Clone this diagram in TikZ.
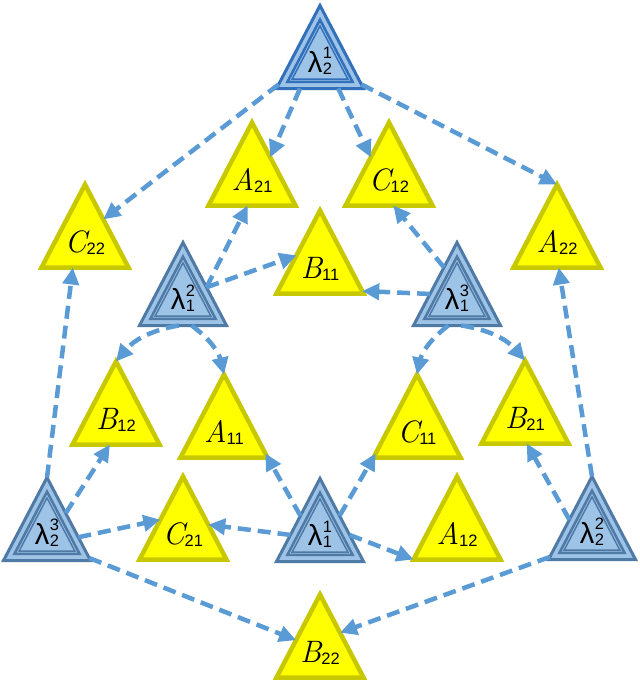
\documentclass[tikz,border=0pt]{standalone}
\usepackage{fontspec}
\newfontfamily\arial{Liberation Sans}
\usetikzlibrary{arrows.meta,calc}
\definecolor{yfill}{RGB}{255,255,0}
\definecolor{ydraw}{RGB}{200,200,0}
\definecolor{bfill}{RGB}{157,195,230}
\definecolor{bdrawA}{RGB}{50,112,188}
\definecolor{bdrawB}{RGB}{80,122,166}
\definecolor{arr}{RGB}{91,155,213}
\tikzset{
 tribox/.style={rectangle, draw=none, minimum width=87pt, minimum height=83pt, inner sep=0pt, outer sep=0pt},
 ytri/.style={fill=yfill, draw=ydraw, line width=4.5pt, line join=miter},
 btri/.style={fill=bfill, draw=#1, line width=3pt, line join=miter},
 binner/.style={draw=#1, line width=2.5pt, line join=miter},
 lab/.style={anchor=base, inner sep=0pt},
 conn/.style={arr, line width=4.5pt, dash pattern=on 13pt off 7pt, -{Triangle[length=17pt,width=16pt]}},
}
\newcommand\ylab[2]{{\fontsize{31}{31}\selectfont\itshape #1}\raisebox{-2pt}{\fontsize{16.5}{16.5}\arial\selectfont #2}}
\newcommand\blab[2]{{\fontsize{29}{29}\arial\selectfont λ}\kern0.5pt\raisebox{-2pt}{\fontsize{16.5}{12}\arial\selectfont\begin{tabular}[b]{@{}l@{}}#1\\#2\end{tabular}}}
\newcommand\ytriangle[4]{%
 \node[tribox] (#1) at (#2,#3) {};
 \draw[ytri] (#1.north) -- (#1.south west) -- (#1.south east) -- cycle;
 \node[lab] (#1-lab) at ([yshift=-26pt]#1.center) {#4};
}
\newcommand\btriangle[5]{%
 \node[tribox] (#1) at (#2,#3) {};
 \coordinate (#1-in) at ([yshift=-15.2pt]#1.center);
 \draw[btri=#4] (#1.north) -- (#1.south west) -- (#1.south east) -- cycle;
 \draw[binner=#4] ($(#1-in)!0.75!(#1.north)$) -- ($(#1-in)!0.75!(#1.south west)$) -- ($(#1-in)!0.75!(#1.south east)$) -- cycle;
 \draw[binner=#4, line width=1.5pt] ($(#1-in)!0.64!(#1.north)$) -- ($(#1-in)!0.64!(#1.south west)$) -- ($(#1-in)!0.64!(#1.south east)$) -- cycle;
 \node[lab] (#1-lab) at ([yshift=-25pt]#1.center) {#5};
}
\begin{document}
\begin{tikzpicture}[x=1pt,y=-1pt]
\useasboundingbox (0,0) rectangle (640,683);
\btriangle{L21}{320}{47}{bdrawA}{\blab{1}{2}}
\ytriangle{A21}{252}{164}{\ylab{A}{21}}
\ytriangle{C12}{389}{164}{\ylab{C}{12}}
\ytriangle{C22}{85}{226}{\ylab{C}{22}}
\ytriangle{A22}{557}{226}{\ylab{A}{22}}
\ytriangle{B11}{320}{252}{\ylab{B}{11}}
\btriangle{L12}{183}{284}{bdrawB}{\blab{2}{1}}
\btriangle{L13}{457}{284}{bdrawB}{\blab{3}{1}}
\ytriangle{B12}{116}{403}{\ylab{B}{12}}
\ytriangle{A11}{224}{416}{\ylab{A}{11}}
\ytriangle{C11}{417}{416}{\ylab{C}{11}}
\ytriangle{B21}{525}{402}{\ylab{B}{21}}
\btriangle{L23}{47}{519}{bdrawB}{\blab{3}{2}}
\ytriangle{C21}{183}{518}{\ylab{C}{21}}
\btriangle{L11}{320}{520}{bdrawB}{\blab{1}{1}}
\ytriangle{A12}{457}{518}{\ylab{A}{12}}
\btriangle{L22}{592}{518}{bdrawB}{\blab{2}{2}}
\ytriangle{B22}{320}{636}{\ylab{B}{22}}
% connectors
\draw[conn] ($(L21.north)!0.95!(L21.south west)$) -- ($(C22.north)!0.42!(C22.south east)$);
\draw[conn] ($(L21.south west)!0.27!(L21.south east)$) -- ($(A21.north)!0.42!(A21.south east)$);
\draw[conn] ($(L21.south west)!0.71!(L21.south east)$) -- ($(C12.north)!0.42!(C12.south west)$);
\draw[conn] ($(L21.north)!0.95!(L21.south east)$) -- (A22.north);
\draw[conn] ($(L12.north)!0.54!(L12.south east)$) -- ($(A21.south west)!0.45!(A21.south east)$);
\draw[conn] ($(L12.north)!0.54!(L12.south east)$) -- ($(B11.north)!0.54!(B11.south west)$);
\draw[conn] ($(L12.south west)!0.45!(L12.south east)$) to[bend right=20] (B12.north);
\draw[conn] ($(L12.south west)!0.6!(L12.south east)$) to[bend left=20] (A11.north);
\draw[conn] ($(L13.north)!0.62!(L13.south west)$) -- ($(B11.north)!0.97!(B11.south east)$);
\draw[conn] ($(L13.north)!0.3!(L13.south west)$) -- ($(C12.south west)!0.55!(C12.south east)$);
\draw[conn] ($(L13.south west)!0.4!(L13.south east)$) to[bend right=20] (C11.north);
\draw[conn] ($(L13.south west)!0.55!(L13.south east)$) to[bend left=20] (B21.north);
\draw[conn] (L23.north) -- ($(C22.south west)!0.36!(C22.south east)$);
\draw[conn] ($(L23.north)!0.43!(L23.south east)$) -- ($(B12.south west)!0.43!(B12.south east)$);
\draw[conn] ($(L23.north)!0.72!(L23.south east)$) -- ($(C21.north)!0.52!(C21.south west)$);
\draw[conn] ($(L23.north)!0.97!(L23.south east)$) -- ($(B22.north)!0.55!(B22.south west)$);
\draw[conn] ($(L11.north)!0.45!(L11.south west)$) -- ($(A11.north)!0.95!(A11.south east)$);
\draw[conn] ($(L11.north)!0.45!(L11.south east)$) -- ($(C11.north)!0.95!(C11.south west)$);
\draw[conn] ($(L11.north)!0.68!(L11.south west)$) -- ($(C21.north)!0.58!(C21.south east)$);
\draw[conn] ($(L11.north)!0.68!(L11.south east)$) -- (A12.south west);
\draw[conn] (L22.north) -- ($(A22.south west)!0.52!(A22.south east)$);
\draw[conn] ($(L22.north)!0.52!(L22.south west)$) -- ($(B21.south west)!0.52!(B21.south east)$);
\draw[conn] ($(L22.north)!0.97!(L22.south west)$) -- ($(B22.north)!0.46!(B22.south east)$);
\end{tikzpicture}
\end{document}
